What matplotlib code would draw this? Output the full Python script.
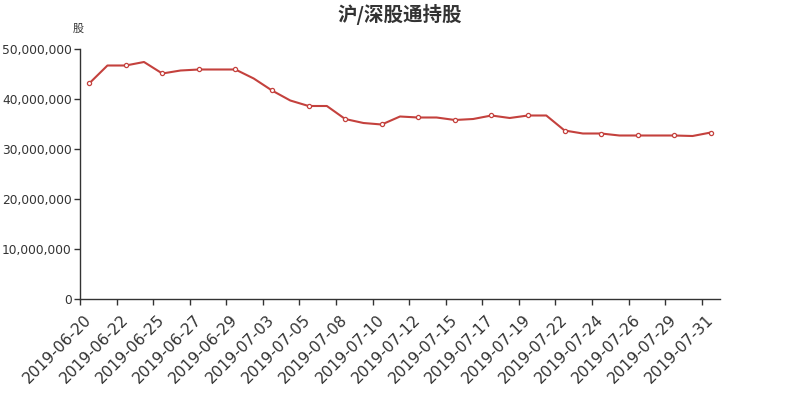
import matplotlib
matplotlib.use("Agg")
import matplotlib.pyplot as plt
from matplotlib.ticker import FuncFormatter, FixedLocator

plt.rcParams['font.family'] = ['DejaVu Sans', 'Noto Sans CJK SC']

dates = ["2019-06-20", "2019-06-21", "2019-06-22", "2019-06-24", "2019-06-25",
         "2019-06-26", "2019-06-27", "2019-06-28", "2019-06-29", "2019-07-02",
         "2019-07-03", "2019-07-04", "2019-07-05", "2019-07-06", "2019-07-08",
         "2019-07-09", "2019-07-10", "2019-07-11", "2019-07-12", "2019-07-13",
         "2019-07-15", "2019-07-16", "2019-07-17", "2019-07-18", "2019-07-19",
         "2019-07-20", "2019-07-22", "2019-07-23", "2019-07-24", "2019-07-25",
         "2019-07-26", "2019-07-27", "2019-07-29", "2019-07-30", "2019-07-31"]

holdings = [43.1, 46.7, 46.7, 47.4, 45.1, 45.7, 45.9, 45.9, 45.9, 44.1,
            41.7, 39.7, 38.6, 38.6, 36.0, 35.2, 34.9, 36.5, 36.3, 36.3,
            35.8, 36.0, 36.7, 36.2, 36.7, 36.7, 33.7, 33.1, 33.1, 32.7,
            32.7, 32.7, 32.7, 32.6, 33.3]
holdings = [v * 1e6 for v in holdings]

title = "沪/深股通持股"
y_unit = "股"

fig = plt.figure(figsize=(8, 4), dpi=100)
ax = fig.add_axes([0.1, 0.2525, 0.8, 0.625])

x = list(range(len(dates)))
ax.plot(x, holdings, color='#c4413d', linewidth=1.5, marker='o', markersize=3.0,
        markerfacecolor='white', markeredgecolor='#c4413d', markeredgewidth=0.9,
        markevery=2, zorder=3)

ax.set_xlim(-0.5, len(dates) - 0.5)
ax.set_ylim(0, 50e6)
ax.set_yticks([0, 10e6, 20e6, 30e6, 40e6, 50e6])
ax.yaxis.set_major_formatter(FuncFormatter(lambda v, p: f"{int(v):,}"))

# labels at every other category centre, ticks at category boundaries
label_idx = list(range(0, len(dates), 2))
ax.set_xticks(label_idx)
ax.set_xticklabels([dates[i] for i in label_idx], rotation=45, ha='right', va='center',
                   rotation_mode='anchor', fontsize=11.2, color='#333333')
ax.tick_params(axis='x', which='major', length=0, pad=13)
ax.xaxis.set_minor_locator(FixedLocator([i - 0.5 for i in label_idx]))
ax.tick_params(axis='x', which='minor', length=4, color='#333333', width=1)
ax.tick_params(axis='y', length=4, color='#333333', width=1, labelsize=8.8,
               labelcolor='#333333', pad=2)

for s in ['top', 'right']:
    ax.spines[s].set_visible(False)
for s in ['left', 'bottom']:
    ax.spines[s].set_color('#333333')
    ax.spines[s].set_linewidth(1)

fig.text(0.5, 0.965, title, ha='center', va='center', fontsize=14,
         fontweight='bold', color='#333333', family=['Noto Sans CJK SC', 'DejaVu Sans'])
fig.text(0.098, 0.928, y_unit, ha='center', va='center', fontsize=8,
         color='#333333', family=['Noto Sans CJK SC', 'DejaVu Sans'])

fig.savefig('out.png', dpi=100)
